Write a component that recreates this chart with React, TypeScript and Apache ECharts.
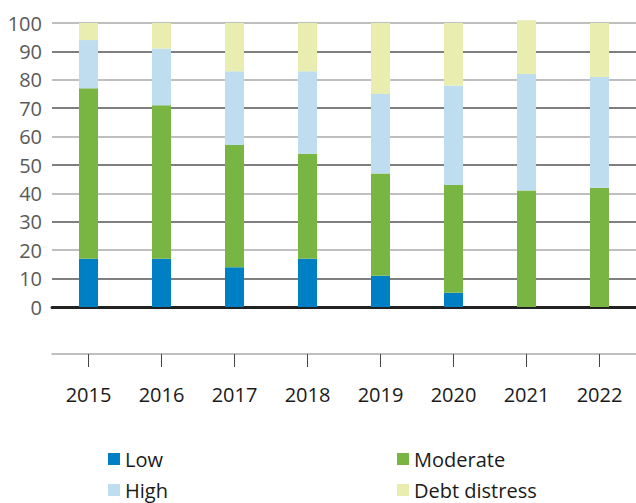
import React, { useEffect, useRef } from "react";
import * as echarts from "echarts";

const years = ["2015", "2016", "2017", "2018", "2019", "2020", "2021", "2022"];
const low = [17, 17, 14, 17, 11, 5, 0, 0];
const moderate = [60, 54, 43, 37, 36, 38, 41, 42];
const high = [17, 20, 26, 29, 28, 35, 41, 39];
const debtDistress = [6, 9, 17, 17, 25, 22, 19, 19];

const seriesNames = ["Low", "Moderate", "High", "Debt distress"];
const seriesColors = ["#0080C4", "#78B543", "#BEDDEE", "#E9EDB0"];
const seriesData = [low, moderate, high, debtDistress];

const FONT = "'Open Sans', sans-serif";

export default function App() {
  const ref = useRef<HTMLDivElement>(null);
  useEffect(() => {
    if (!ref.current) return;
    const chart = echarts.init(ref.current, null, { renderer: "svg" });
    const legendPos = [
      { left: 108, top: 449 },
      { left: 397, top: 449 },
      { left: 108, top: 480 },
      { left: 397, top: 480 },
    ];
    chart.setOption({
      animation: false,
      grid: { left: 52, right: -3, top: 23, bottom: 196, containLabel: false },
      legend: seriesNames.map((n, i) => ({
        data: [n],
        left: legendPos[i].left,
        top: legendPos[i].top,
        padding: 0,
        itemWidth: 12,
        itemHeight: 12,
        icon: "rect",
        textStyle: { fontFamily: FONT, fontSize: 20, lineHeight: 20, color: "#1a1a1a" },
        selectedMode: false,
      })),
      xAxis: [
        {
          type: "category",
          data: years,
          axisLine: { show: true, lineStyle: { color: "#222", width: 3 } },
          axisTick: { show: false },
          axisLabel: { show: false },
        },
        {
          type: "category",
          data: years,
          position: "bottom",
          offset: 47,
          axisLine: { show: true, lineStyle: { color: "#aaa", width: 1.5 } },
          axisTick: { show: true, alignWithLabel: true, length: 13, lineStyle: { color: "#444", width: 1 } },
          axisLabel: { show: true, margin: 30, fontFamily: FONT, fontSize: 20, color: "#1a1a1a" },
        },
      ],
      yAxis: {
        type: "value",
        min: 0,
        max: 100,
        interval: 10,
        axisLine: { show: false },
        axisTick: { show: false },
        axisLabel: { margin: 10, fontFamily: FONT, fontSize: 20, color: "#5a5a5a" },
        splitLine: { show: true, lineStyle: { color: ["#aaa", "#555"], width: 1.5 } },
      },
      series: seriesNames.map((n, i) => ({
        name: n,
        type: "bar",
        stack: "total",
        xAxisIndex: 0,
        data: seriesData[i],
        barWidth: 19,
        clip: false,
        itemStyle: { color: seriesColors[i] },
      })),
    });
    return () => chart.dispose();
  }, []);
  return <div ref={ref} style={{ width: 636, height: 503, position: "absolute", left: 0, top: 0 }} />;
}
